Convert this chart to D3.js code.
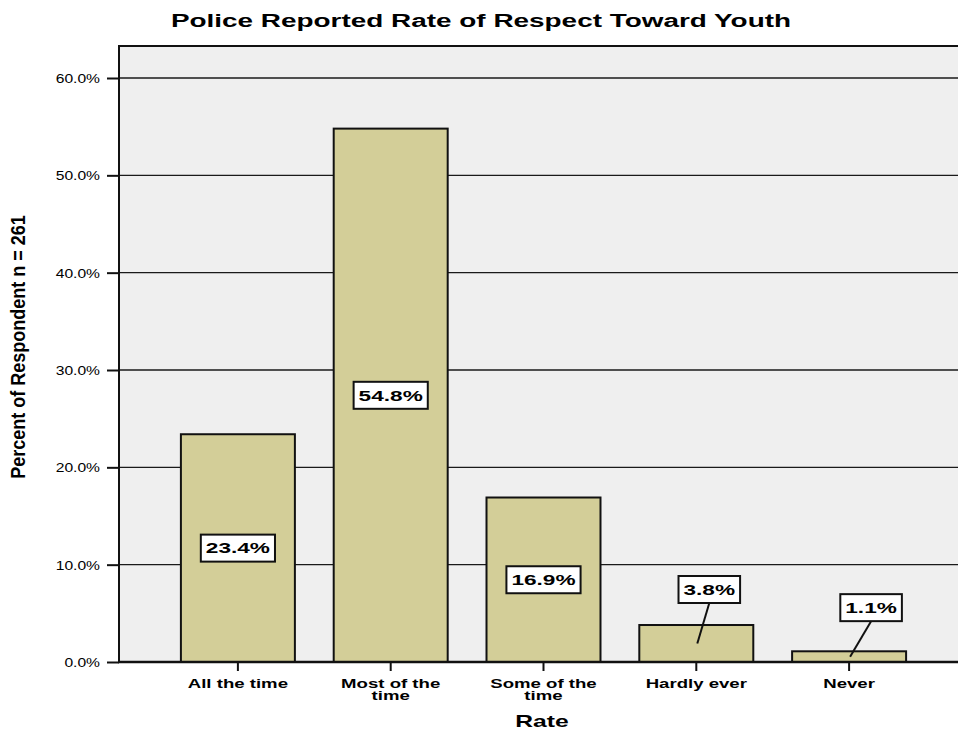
<!DOCTYPE html>
<html>
<head>
<meta charset="utf-8">
<script src="https://cdn.jsdelivr.net/npm/d3@7"></script>
<style>
  html, body { margin: 0; padding: 0; background: #ffffff; }
  svg { display: block; }
  text { font-family: "Liberation Sans", Arial, sans-serif; fill: #000; }
</style>
</head>
<body>
<svg id="chart" width="958" height="732"></svg>
<script>
// Survey results: share of respondents per answer
const categories = ["All the time", "Most of the time", "Some of the time", "Hardly ever", "Never"];
const percents = [23.4, 54.8, 16.9, 3.8, 1.1];
const yTicks = [0, 10, 20, 30, 40, 50, 60];
const titleText = "Police Reported Rate of Respect Toward Youth";
const yTitle = "Percent of Respondent n = 261";
const xTitle = "Rate";

// Offsets for callout boxes on short bars (dx, dy from the bar's mid-height point)
const calloutOffset = [null, null, null, [13, -54], [22, -49]];

const W = 958, H = 732;
const plot = { left: 119, top: 46, right: 958, bottom: 662 };

const svg = d3.select("#chart");

const y = d3.scaleLinear().domain([0, 60]).range([662, 78]);
const x = d3.scaleBand().domain(categories)
  .range([161.5, 925.5]).paddingInner(0.254).paddingOuter(0.127);

// widen (k > 1) or condense (k < 1) glyphs horizontally
function stretch(sel, k) {
  sel.each(function () {
    const w = this.getComputedTextLength();
    d3.select(this).attr("textLength", w * k).attr("lengthAdjust", "spacingAndGlyphs");
  });
}

// plot background
svg.append("rect")
  .attr("x", plot.left).attr("y", plot.top)
  .attr("width", plot.right - plot.left).attr("height", plot.bottom - plot.top)
  .attr("fill", "#efefef");

// horizontal gridlines
svg.append("g").selectAll("line").data(yTicks.filter(d => d > 0)).join("line")
  .attr("x1", plot.left).attr("x2", plot.right)
  .attr("y1", d => y(d)).attr("y2", d => y(d))
  .attr("stroke", "#1a1a1a").attr("stroke-width", 1.4);

// frame: top and left edges
svg.append("path")
  .attr("d", `M${plot.left},${plot.bottom} V${plot.top} H${plot.right}`)
  .attr("fill", "none").attr("stroke", "#111").attr("stroke-width", 2);

// bars
svg.append("g").selectAll("rect").data(percents).join("rect")
  .attr("x", (d, i) => x(categories[i]))
  .attr("y", d => y(d))
  .attr("width", x.bandwidth())
  .attr("height", d => y(0) - y(d))
  .attr("fill", "#d3ce98")
  .attr("stroke", "#111").attr("stroke-width", 2);

// y axis
const yAxis = svg.append("g")
  .attr("transform", `translate(${plot.left},0)`)
  .call(d3.axisLeft(y).tickValues(yTicks).tickSize(12).tickPadding(7)
    .tickFormat(d => d.toFixed(1) + "%"));
yAxis.select(".domain").remove();
yAxis.selectAll(".tick line").attr("stroke", "#111").attr("stroke-width", 2);
yAxis.selectAll(".tick text")
  .attr("font-family", "Liberation Sans, Arial, sans-serif")
  .attr("font-size", 12.5).attr("fill", "#111").attr("dy", "0.35em")
  .call(stretch, 1.25);

// x axis baseline and ticks
svg.append("line")
  .attr("x1", plot.left - 1).attr("x2", plot.right)
  .attr("y1", plot.bottom).attr("y2", plot.bottom)
  .attr("stroke", "#111").attr("stroke-width", 2.5);
svg.append("g").selectAll("line").data(categories).join("line")
  .attr("x1", d => x(d) + x.bandwidth() / 2).attr("x2", d => x(d) + x.bandwidth() / 2)
  .attr("y1", plot.bottom).attr("y2", plot.bottom + 9)
  .attr("stroke", "#111").attr("stroke-width", 2);

// category labels, wrapped to a max line length
function wrap(label, maxChars) {
  const lines = [];
  let cur = "";
  label.split(" ").forEach(w => {
    const next = cur ? cur + " " + w : w;
    if (next.length > maxChars && cur) { lines.push(cur); cur = w; }
    else cur = next;
  });
  lines.push(cur);
  return lines;
}
categories.forEach(c => {
  const cx = x(c) + x.bandwidth() / 2;
  wrap(c, 12).forEach((line, j) => {
    svg.append("text")
      .attr("x", cx).attr("y", 688 + j * 11.5)
      .attr("text-anchor", "middle")
      .attr("font-size", 13).attr("font-weight", "bold")
      .text(line)
      .call(stretch, 1.43);
  });
});

// value callouts
percents.forEach((v, i) => {
  const cx = x(categories[i]) + x.bandwidth() / 2;
  const my = (y(v) + y(0)) / 2;
  const off = calloutOffset[i];
  const bx = off ? cx + off[0] : cx;
  const by = off ? my + off[1] : my;
  const g = svg.append("g");
  const t = g.append("text")
    .attr("x", bx).attr("y", by).attr("dy", "0.36em")
    .attr("text-anchor", "middle")
    .attr("font-size", 14.5).attr("font-weight", "bold")
    .text(v.toFixed(1) + "%")
    .call(stretch, 1.56);
  const tw = +t.attr("textLength");
  const bw = tw + 10, bh = 27;
  if (off) {
    g.insert("line", "text")
      .attr("x1", bx).attr("y1", by + bh / 2)
      .attr("x2", cx + 1).attr("y2", my)
      .attr("stroke", "#111").attr("stroke-width", 2);
  }
  g.insert("rect", "text")
    .attr("x", bx - bw / 2).attr("y", by - bh / 2)
    .attr("width", bw).attr("height", bh)
    .attr("fill", "#ffffff").attr("stroke", "#111").attr("stroke-width", 2);
});

// titles
svg.append("text")
  .attr("x", 481).attr("y", 27)
  .attr("text-anchor", "middle")
  .attr("font-size", 18).attr("font-weight", "bold")
  .text(titleText)
  .call(stretch, 1.55);

svg.append("text")
  .attr("x", 542).attr("y", 727)
  .attr("text-anchor", "middle")
  .attr("font-size", 17).attr("font-weight", "bold")
  .text(xTitle)
  .call(stretch, 1.45);

svg.append("text")
  .attr("transform", "translate(25,347) rotate(-90)")
  .attr("text-anchor", "middle")
  .attr("font-size", 20).attr("font-weight", "bold")
  .text(yTitle)
  .call(stretch, 0.9);
</script>
</body>
</html>
